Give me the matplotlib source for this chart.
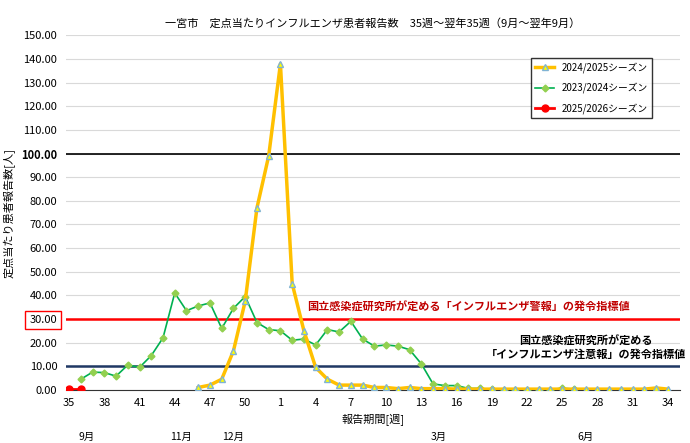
import numpy as np
import matplotlib.pyplot as plt

plt.rcParams['font.family'] = 'Noto Sans CJK JP'

weeks = list(range(35, 53)) + list(range(1, 35))
tick_labels = [35, 38, 41, 44, 47, 50, 1, 4, 7, 10, 13, 16, 19, 22, 25, 28, 31, 34]

# 2024/2025 season, starts week 46
s2024 = [1.0, 2.0, 4.5, 16.5, 37.5, 77, 99, 138, 45, 25, 9.5, 4.5, 2, 2, 2, 1, 1, 0.5, 1,
         0.5, 0.5, 0.5, 0.3, 0.3, 0.3, 0.3, 0.3, 0.3, 0.3, 0.3, 0.3, 0.3, 0.3, 0.3, 0.3,
         0.3, 0.3, 0.3, 0.3, 0.8, 0.3]
# 2023/2024 season, starts week 36
s2023 = [4.5, 7.5, 7.3, 5.8, 10.5, 9.5, 14.5, 22, 41, 33.5, 35.5, 36.8, 26, 34.5, 39.5,
         28.5, 25.5, 25, 21, 21.5, 19, 25.5, 24.5, 29, 21.5, 18.5, 19, 18.5, 17, 11, 2.5,
         1.8, 1.8, 0.6, 0.6, 0.2, 0.1, 0.1, 0.1, 0.1, 0.1, 0.7, 0.3]
# 2025/2026 season, starts week 35
s2025 = [0.3, 0.3]

months = ['9月', '11月', '12月', '3月', '6月']
month_pos = [1.5, 9.5, 14, 31.5, 44]

fig, ax = plt.subplots(figsize=(6.9, 4.43), dpi=100)
fig.subplots_adjust(left=0.095, right=0.985, top=0.92, bottom=0.12)

x24 = np.arange(11, 11 + len(s2024))
x23 = np.arange(1, 1 + len(s2023))
x25 = np.arange(0, len(s2025))

ax.axhline(100, color='black', lw=1.2)
ax.axhline(30, color='red', lw=1.8)
ax.axhline(10, color='#1f3864', lw=1.8)

ax.plot(x24, s2024, color='#ffc000', lw=2.5, marker='^', ms=4.5, mfc='#ffff00',
        mec='#7fb3d5', label='2024/2025シーズン', zorder=4)
ax.plot(x23, s2023, color='#00b050', lw=1.2, marker='D', ms=3.5, mfc='#92d050',
        mec='#92d050', label='2023/2024シーズン', zorder=3)
ax.plot(x25, s2025, color='red', lw=2, marker='o', ms=5, label='2025/2026シーズン', zorder=5)

ax.set_xlim(-0.3, 52)
ax.set_ylim(0, 150)
ax.set_yticks(np.arange(0, 151, 10))
ax.set_yticklabels(['%.2f' % v for v in np.arange(0, 151, 10)], fontsize=8)
for t in ax.get_yticklabels():
    if t.get_text() == '100.00':
        t.set_fontweight('bold')
    if t.get_text() == '30.00':
        t.set_bbox(dict(facecolor='none', edgecolor='red', lw=1, pad=3))
ax.set_xticks([weeks.index(w) for w in tick_labels])
ax.set_xticklabels([str(w) for w in tick_labels], fontsize=8)
ax.tick_params(length=0, pad=6)
ax.grid(axis='y', color='#d9d9d9', lw=0.8)
ax.set_axisbelow(True)
for s in ['top', 'right', 'left']:
    ax.spines[s].set_visible(False)
ax.spines['bottom'].set_color('#333333')

ax.set_xlabel('報告期間[週]', fontsize=8)
ax.set_ylabel('定点当たり患者報告数[人]', fontsize=8)
ax.set_title('一宮市　定点当たりインフルエンザ患者報告数　35週～翌年35週（9月～翌年9月）', fontsize=8)

for m, p in zip(months, month_pos):
    ax.text(p, -20, m, fontsize=7.5, ha='center', va='center')

ax.text(34, 35, '国立感染症研究所が定める「インフルエンザ警報」の発令指標値', color='#c00000',
        fontsize=8, fontweight='bold', ha='center', va='center')
ax.text(44, 18, '国立感染症研究所が定める\n「インフルエンザ注意報」の発令指標値',
        fontsize=8, fontweight='bold', ha='center', va='center', linespacing=1.0)

ax.legend(loc='upper left', bbox_to_anchor=(0.75, 0.95), fontsize=7, frameon=True,
          edgecolor='black', fancybox=False, labelspacing=1.0)

fig.savefig('out.png')
